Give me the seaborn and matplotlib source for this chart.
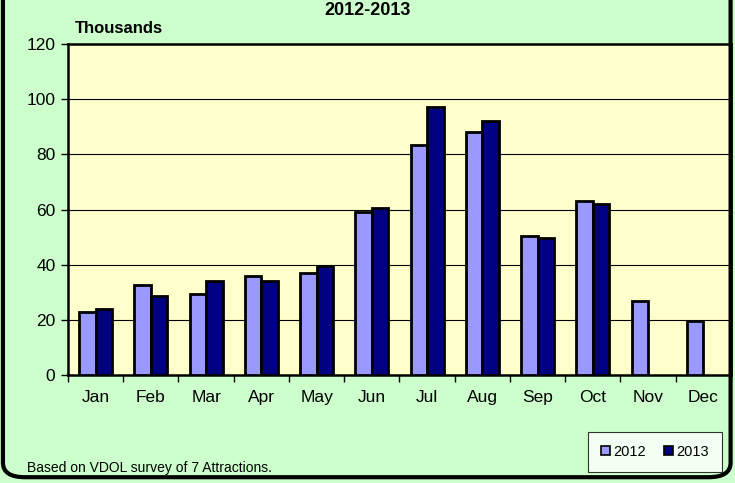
import seaborn as sns
import matplotlib.pyplot as plt
import numpy as np
import pandas as pd
from matplotlib.patches import FancyBboxPatch

months = ["Jan", "Feb", "Mar", "Apr", "May", "Jun", "Jul", "Aug", "Sep", "Oct", "Nov", "Dec"]
visitors_2012 = [22.8, 32.5, 29.5, 36, 37, 59, 83.5, 88, 50.5, 63, 27, 19.5]
visitors_2013 = [24, 28.5, 34, 34, 39.5, 60.5, 97, 92, 49.5, 62, np.nan, np.nan]
years = ["2012", "2013"]
colors = ["#9999FF", "#000080"]

df = pd.DataFrame({
    "month": months * 2,
    "visitors": visitors_2012 + visitors_2013,
    "year": [years[0]] * 12 + [years[1]] * 12,
})

sns.set_style("ticks")
plt.rcParams["font.family"] = ["Liberation Sans", "DejaVu Sans"]
plt.rcParams["text.color"] = "black"
plt.rcParams["xtick.color"] = "black"
plt.rcParams["ytick.color"] = "black"

fig = plt.figure(figsize=(7.35, 4.83), dpi=100)
fig.patch.set_facecolor("#CCFFCC")

# rounded black frame of the chart area
frame = FancyBboxPatch((0.004, 0.012), 0.99, 1.2, boxstyle="round,pad=0,rounding_size=0.03",
                       transform=fig.transFigure, facecolor="none", edgecolor="black",
                       linewidth=3, zorder=0)
fig.patches.append(frame)

ax = fig.add_axes([0.0925, 0.2236, 0.902, 0.6853])
ax.set_facecolor("#FFFFCC")

sns.barplot(data=df, x="month", y="visitors", hue="year", palette=colors, saturation=1,
            width=0.6, edgecolor="black", linewidth=2, ax=ax, legend=False, zorder=3)

ax.set_ylim(0, 120)
ax.set_yticks(range(0, 121, 20))
ax.yaxis.grid(True, color="black", linewidth=0.8, zorder=0)
ax.set_axisbelow(True)
ax.set_xlim(-0.5, 11.5)
ax.set_xlabel("")
ax.set_ylabel("")

# tick marks between the month groups
ax.set_xticks(np.arange(-0.5, 12, 1), minor=True)
ax.tick_params(axis="x", which="major", length=0, labelsize=12.5, pad=11)
ax.tick_params(axis="x", which="minor", length=5, width=1, direction="out")
ax.tick_params(axis="y", length=5, width=1, labelsize=12.5, pad=4)

for s in ax.spines.values():
    s.set_visible(True)
    s.set_color("black")
    s.set_linewidth(1.8)

fig.text(0.5, 0.978, "2012-2013", ha="center", va="center", fontsize=13, fontweight="bold")
fig.text(0.102, 0.94, "Thousands", ha="left", va="center", fontsize=12, fontweight="bold")
fig.text(0.037, 0.031, "Based on VDOL survey of 7 Attractions.", ha="left", va="center", fontsize=10)

handles = [plt.Rectangle((0, 0), 1, 1, facecolor=c, edgecolor="black", linewidth=1.2) for c in colors]
leg = fig.legend(handles, years, ncol=2, loc="lower right", bbox_to_anchor=(0.992, 0.008),
                 fontsize=10.5, frameon=True, fancybox=False, edgecolor="black",
                 handlelength=0.6, handleheight=0.6, handletextpad=0.2, columnspacing=1.3,
                 borderpad=0.9)
leg.get_frame().set_linewidth(0.8)

fig.savefig("out.png", dpi=100, facecolor=fig.get_facecolor())
